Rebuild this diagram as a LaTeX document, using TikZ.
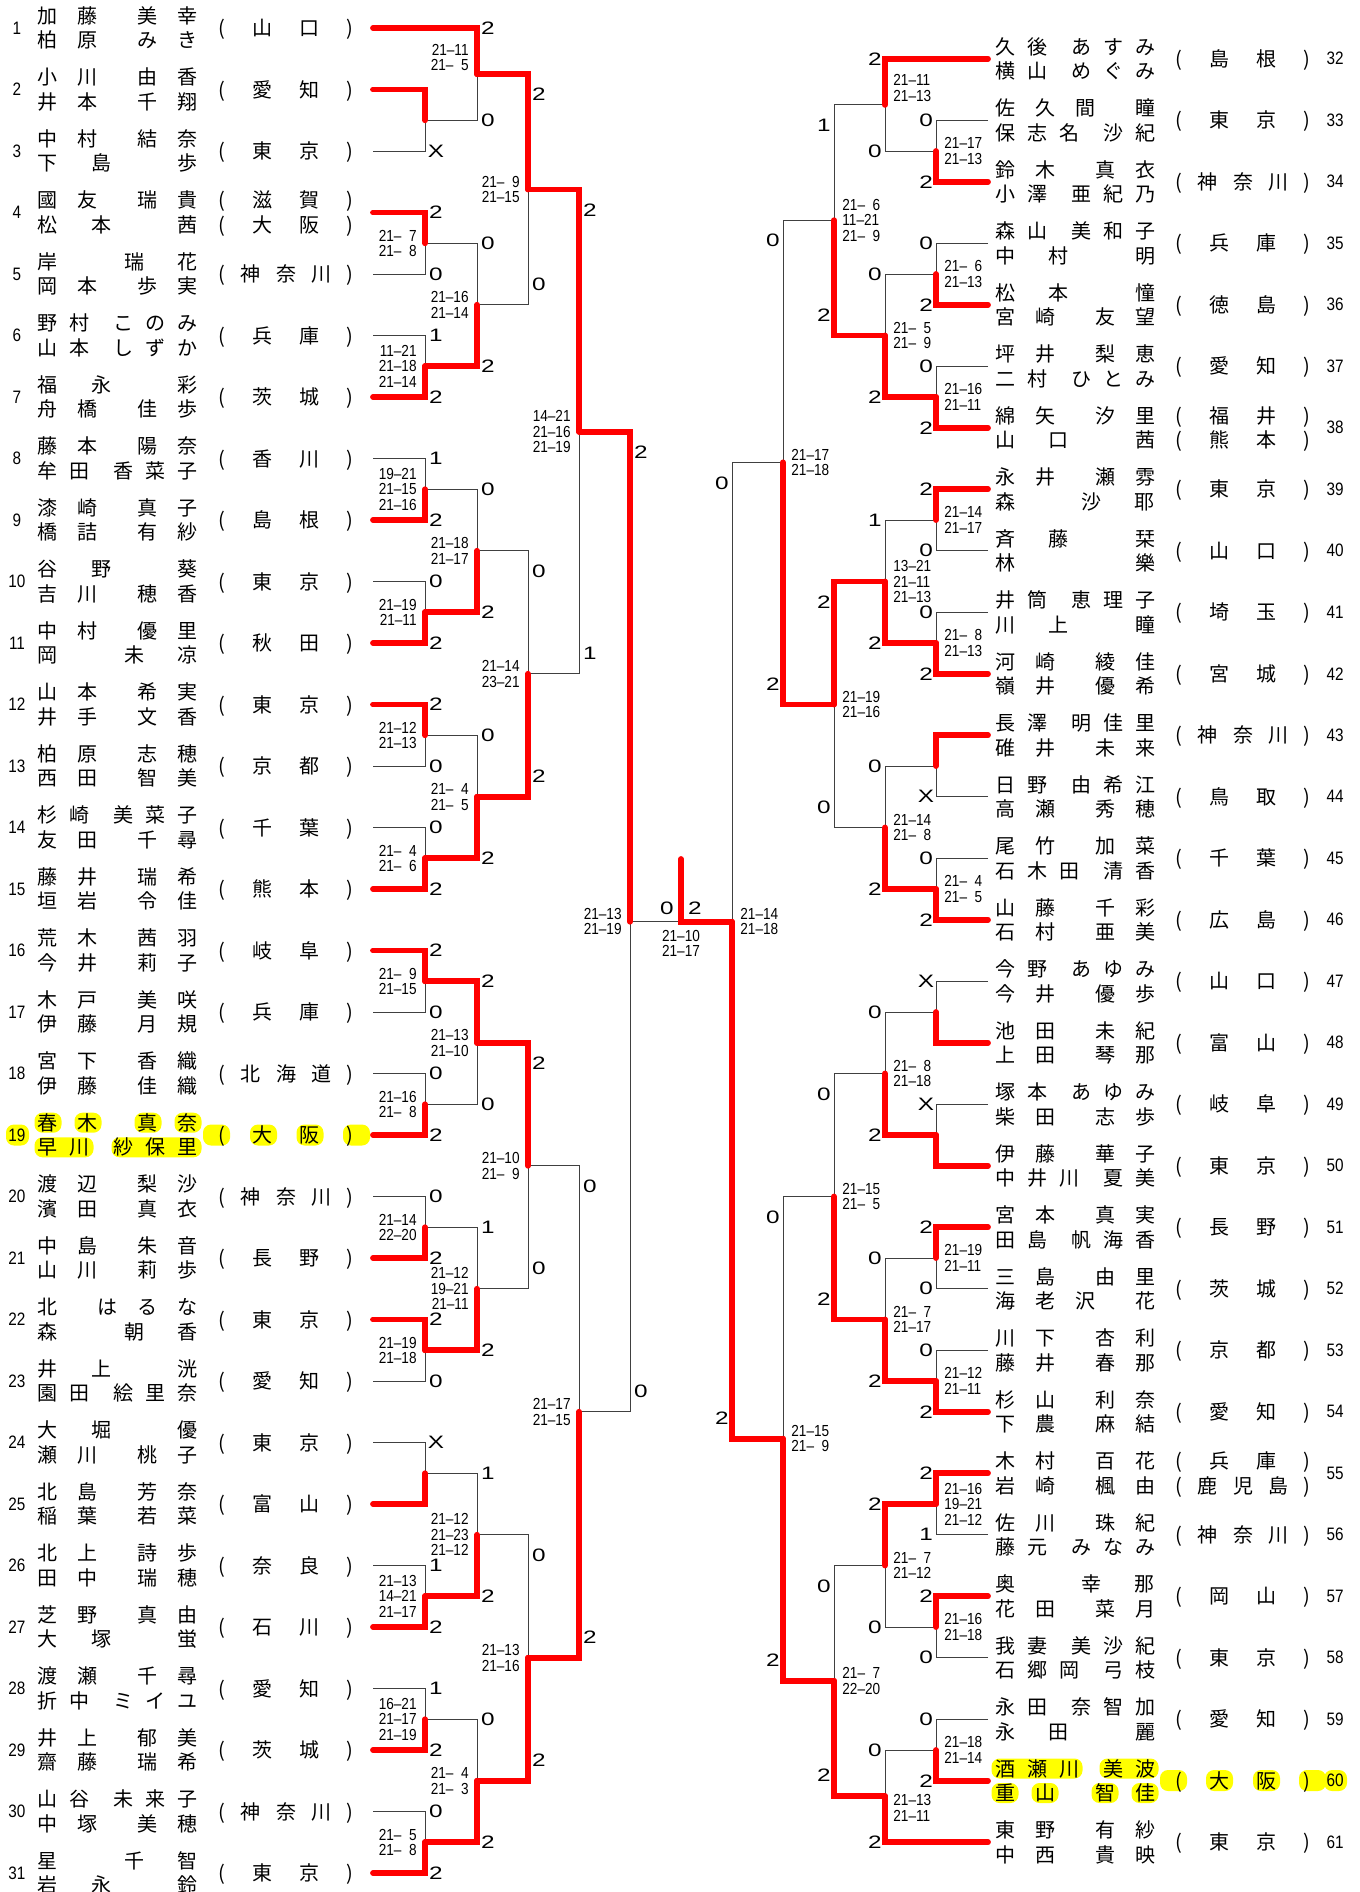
\documentclass[tikz,border=0pt]{standalone}
\usepackage{fontspec}
\setmainfont{Noto Sans CJK JP}
\newfontfamily\numfont{Liberation Sans}[FakeStretch=0.85]
\newfontfamily\gamefont{Liberation Sans}[FakeStretch=1.35]
\usetikzlibrary{positioning}
\definecolor{winred}  {RGB}{255,0,0}
\definecolor{hlyellow}{RGB}{255,255,0}
\pgfdeclarelayer{thin}
\pgfsetlayers{thin,main}
\tikzset{
  win/.style   ={draw=winred, line width=2.9pt, line cap=round},
  lose/.style  ={draw=black!75, line width=0.5pt},
  jtext/.style ={inner sep=0pt, font=\fontsize{10}{12}\selectfont,
                 text height=8.8pt, text depth=1.2pt},
  entno/.style ={inner sep=0pt, font=\numfont\fontsize{9}{9}\selectfont},
  game/.style  ={inner sep=0pt, font=\gamefont\fontsize{9}{9}\selectfont},
  lscore/.style={inner sep=0pt, align=right, font=\numfont\fontsize{8}{7.75}\selectfont},
  rscore/.style={inner sep=0pt, align=left,  font=\numfont\fontsize{8}{7.75}\selectfont},
  hl/.style    ={fill=hlyellow, rounded corners=4pt},
}
%% spread characters with \hfill between them
\def\spreadchars#1{\spreadA#1\spreadend}
\def\spreadA#1#2\spreadend{#1\ifx\relax#2\relax\else\hfill\spreadA#2\spreadend\fi}
\newcommand\pname[2]{\hbox to 80pt{\spreadchars{#1}\hfill\hfill\spreadchars{#2}}}
\newcommand\pref[1]{\hbox to 67.3pt{(\hfill\spreadchars{#1}\hfill)}}
\newcommand\fsp{\phantom{0}}
%% entries: number, family/given (line 1), family/given (line 2), prefecture
\newcommand\lentry[6]{%
  \pgfmathsetmacro\ey{28+61.5*(#1-1)}%
  \node[entno] (n#1) at (17,\ey) {#1};
  \node[jtext] (a#1) at (118,\ey-12.3) {\pname{#2}{#3}};
  \node[jtext] (b#1) at (118,\ey+12.3) {\pname{#4}{#5}};
  \node[jtext] (p#1) at (286,\ey) {\pref{#6}};
  \coordinate (e#1) at (373,\ey);
}
\newcommand\lentryb[7]{%
  \pgfmathsetmacro\ey{28+61.5*(#1-1)}%
  \node[entno] (n#1) at (17,\ey) {#1};
  \node[jtext] (a#1) at (118,\ey-12.3) {\pname{#2}{#3}};
  \node[jtext] (p#1) at (286,\ey-12.3) {\pref{#4}};
  \node[jtext] (b#1) at (118,\ey+12.3) {\pname{#5}{#6}};
  \node[jtext] (q#1) at (286,\ey+12.3) {\pref{#7}};
  \coordinate (e#1) at (373,\ey);
}
\newcommand\rentry[6]{%
  \pgfmathsetmacro\ey{58.75+61.5*(#1-32)}%
  \node[entno] (n#1) at (1335,\ey) {#1};
  \node[jtext] (a#1) at (1075,\ey-12.3) {\pname{#2}{#3}};
  \node[jtext] (b#1) at (1075,\ey+12.3) {\pname{#4}{#5}};
  \node[jtext] (p#1) at (1243,\ey) {\pref{#6}};
  \coordinate (e#1) at (988,\ey);
}
\newcommand\rentryb[7]{%
  \pgfmathsetmacro\ey{58.75+61.5*(#1-32)}%
  \node[entno] (n#1) at (1335,\ey) {#1};
  \node[jtext] (a#1) at (1075,\ey-12.3) {\pname{#2}{#3}};
  \node[jtext] (p#1) at (1243,\ey-12.3) {\pref{#4}};
  \node[jtext] (b#1) at (1075,\ey+12.3) {\pname{#5}{#6}};
  \node[jtext] (q#1) at (1243,\ey+12.3) {\pref{#7}};
  \coordinate (e#1) at (988,\ey);
}
%% matches: match, top, bottom, top games, bottom games, label shift, winner (t/b), score, score shift
\newcommand\lbout[9]{%
  \begin{pgfonlayer}{thin}
    \ifx t#7\draw[lose] (#3) -| (#1);\else\draw[lose] (#2) -| (#1);\fi
  \end{pgfonlayer}
  \ifx t#7\draw[win] (#2) -| (#1);\else\draw[win] (#3) -| (#1);\fi
  \node[game, xshift=5.5pt, yshift=-#6] (#1-t) at (#1 |- #2) {#4};
  \node[game, xshift=5.5pt, yshift=#6] (#1-b) at (#1 |- #3) {#5};
  \node[lscore, left=4pt of #1, yshift=#9] (#1-s) {#8};
}
\newcommand\rbout[9]{%
  \begin{pgfonlayer}{thin}
    \ifx t#7\draw[lose] (#3) -| (#1);\else\draw[lose] (#2) -| (#1);\fi
  \end{pgfonlayer}
  \ifx t#7\draw[win] (#2) -| (#1);\else\draw[win] (#3) -| (#1);\fi
  \node[game, xshift=-5pt, yshift=-#6] (#1-t) at (#1 |- #2) {#4};
  \node[game, xshift=-5pt, yshift=#6] (#1-b) at (#1 |- #3) {#5};
  \node[rscore, right=4pt of #1, yshift=#9] (#1-s) {#8};
}

\begin{document}
\begin{tikzpicture}[x=0.5pt,y=-0.5pt]
  \useasboundingbox (0,0) rectangle (1360,1892);

  %% highlighted pairs
  \fill[hl] (6,1124.5) rectangle (29,1145.5);
  \fill[hl] (34.5,1112.7) rectangle (61.5,1132.7);
  \fill[hl] (74.5,1112.7) rectangle (101.5,1132.7);
  \fill[hl] (134.5,1112.7) rectangle (161.5,1132.7);
  \fill[hl] (174.5,1112.7) rectangle (201.5,1132.7);
  \fill[hl] (34.5,1137.3) rectangle (93.5,1157.3);
  \fill[hl] (111.5,1137.3) rectangle (201.5,1157.3);
  \fill[hl] (203,1124.5) rectangle (230,1145.5);
  \fill[hl] (250,1124.5) rectangle (277,1145.5);
  \fill[hl] (296.5,1124.5) rectangle (323.5,1145.5);
  \fill[hl] (343,1124.5) rectangle (370,1145.5);
  \fill[hl] (991.5,1758.5) rectangle (1082.5,1778.5);
  \fill[hl] (1099.5,1758.5) rectangle (1158.5,1778.5);
  \fill[hl] (991.5,1783) rectangle (1018.5,1803);
  \fill[hl] (1031.5,1783) rectangle (1058.5,1803);
  \fill[hl] (1091.5,1783) rectangle (1118.5,1803);
  \fill[hl] (1131.5,1783) rectangle (1158.5,1803);
  \fill[hl] (1160,1770) rectangle (1187,1791);
  \fill[hl] (1206,1770) rectangle (1233,1791);
  \fill[hl] (1253,1770) rectangle (1280,1791);
  \fill[hl] (1299,1770) rectangle (1326,1791);
  \fill[hl] (1324,1770) rectangle (1347,1791);

  %% left half
  \lentry{1}{加藤}{美幸}{柏原}{みき}{山口}
  \lentry{2}{小川}{由香}{井本}{千翔}{愛知}
  \lentry{3}{中村}{結奈}{下島}{歩}{東京}
  \lentryb{4}{國友}{瑞貴}{滋賀}{松本}{茜}{大阪}
  \lentry{5}{岸}{瑞花}{岡本}{歩実}{神奈川}
  \lentry{6}{野村}{このみ}{山本}{しずか}{兵庫}
  \lentry{7}{福永}{彩}{舟橋}{佳歩}{茨城}
  \lentry{8}{藤本}{陽奈}{牟田}{香菜子}{香川}
  \lentry{9}{漆崎}{真子}{橋詰}{有紗}{島根}
  \lentry{10}{谷野}{葵}{吉川}{穂香}{東京}
  \lentry{11}{中村}{優里}{岡}{未凉}{秋田}
  \lentry{12}{山本}{希実}{井手}{文香}{東京}
  \lentry{13}{柏原}{志穂}{西田}{智美}{京都}
  \lentry{14}{杉崎}{美菜子}{友田}{千尋}{千葉}
  \lentry{15}{藤井}{瑞希}{垣岩}{令佳}{熊本}
  \lentry{16}{荒木}{茜羽}{今井}{莉子}{岐阜}
  \lentry{17}{木戸}{美咲}{伊藤}{月規}{兵庫}
  \lentry{18}{宮下}{香織}{伊藤}{佳織}{北海道}
  \lentry{19}{春木}{真奈}{早川}{紗保里}{大阪}
  \lentry{20}{渡辺}{梨沙}{濱田}{真衣}{神奈川}
  \lentry{21}{中島}{朱音}{山川}{莉歩}{長野}
  \lentry{22}{北}{はるな}{森}{朝香}{東京}
  \lentry{23}{井上}{洸}{園田}{絵里奈}{愛知}
  \lentry{24}{大堀}{優}{瀬川}{桃子}{東京}
  \lentry{25}{北島}{芳奈}{稲葉}{若菜}{富山}
  \lentry{26}{北上}{詩歩}{田中}{瑞穂}{奈良}
  \lentry{27}{芝野}{真由}{大塚}{蛍}{石川}
  \lentry{28}{渡瀬}{千尋}{折中}{ミイユ}{愛知}
  \lentry{29}{井上}{郁美}{齋藤}{瑞希}{茨城}
  \lentry{30}{山谷}{未来子}{中塚}{美穂}{神奈川}
  \lentry{31}{星}{千智}{岩永}{鈴}{東京}

  %% right half
  \rentry{32}{久後}{あすみ}{横山}{めぐみ}{島根}
  \rentry{33}{佐久間}{瞳}{保志名}{沙紀}{東京}
  \rentry{34}{鈴木}{真衣}{小澤}{亜紀乃}{神奈川}
  \rentry{35}{森山}{美和子}{中村}{明}{兵庫}
  \rentry{36}{松本}{憧}{宮崎}{友望}{徳島}
  \rentry{37}{坪井}{梨恵}{二村}{ひとみ}{愛知}
  \rentryb{38}{綿矢}{汐里}{福井}{山口}{茜}{熊本}
  \rentry{39}{永井}{瀬雰}{森}{沙耶}{東京}
  \rentry{40}{斉藤}{栞}{林}{樂}{山口}
  \rentry{41}{井筒}{恵理子}{川上}{瞳}{埼玉}
  \rentry{42}{河崎}{綾佳}{嶺井}{優希}{宮城}
  \rentry{43}{長澤}{明佳里}{碓井}{未来}{神奈川}
  \rentry{44}{日野}{由希江}{高瀬}{秀穂}{鳥取}
  \rentry{45}{尾竹}{加菜}{石木田}{清香}{千葉}
  \rentry{46}{山藤}{千彩}{石村}{亜美}{広島}
  \rentry{47}{今野}{あゆみ}{今井}{優歩}{山口}
  \rentry{48}{池田}{未紀}{上田}{琴那}{富山}
  \rentry{49}{塚本}{あゆみ}{柴田}{志歩}{岐阜}
  \rentry{50}{伊藤}{華子}{中井川}{夏美}{東京}
  \rentry{51}{宮本}{真実}{田島}{帆海香}{長野}
  \rentry{52}{三島}{由里}{海老沢}{花}{茨城}
  \rentry{53}{川下}{杏利}{藤井}{春那}{京都}
  \rentry{54}{杉山}{利奈}{下農}{麻結}{愛知}
  \rentryb{55}{木村}{百花}{兵庫}{岩崎}{楓由}{鹿児島}
  \rentry{56}{佐川}{珠紀}{藤元}{みなみ}{神奈川}
  \rentry{57}{奥}{幸那}{花田}{菜月}{岡山}
  \rentry{58}{我妻}{美沙紀}{石郷岡}{弓枝}{東京}
  \rentry{59}{永田}{奈智加}{永田}{麗}{愛知}
  \rentry{60}{酒瀬川}{美波}{重山}{智佳}{大阪}
  \rentry{61}{東野}{有紗}{中西}{貴映}{東京}

  %% left bracket
  \coordinate (lA) at (425,120.25);
  \coordinate (lB) at (477,74.125);
  \coordinate (lC) at (425,243.25);
  \coordinate (lD) at (425,366.25);
  \coordinate (lE) at (477,304.75);
  \coordinate (lF) at (528,189.44);
  \coordinate (lG) at (425,489.25);
  \coordinate (lH) at (425,612.25);
  \coordinate (lI) at (477,550.75);
  \coordinate (lJ) at (425,735.25);
  \coordinate (lK) at (425,858.25);
  \coordinate (lL) at (477,796.75);
  \coordinate (lM) at (528,673.75);
  \coordinate (lN) at (579,431.6);
  \coordinate (lO) at (425,981.25);
  \coordinate (lP) at (425,1104.25);
  \coordinate (lQ) at (477,1042.75);
  \coordinate (lR) at (425,1227.25);
  \coordinate (lS) at (425,1350.25);
  \coordinate (lT) at (477,1288.75);
  \coordinate (lU) at (528,1165.75);
  \coordinate (lV) at (425,1473.25);
  \coordinate (lW) at (425,1596.25);
  \coordinate (lX) at (477,1534.75);
  \coordinate (lY) at (425,1719.25);
  \coordinate (lZ) at (425,1842.25);
  \coordinate (lAA) at (477,1780.75);
  \coordinate (lAB) at (528,1657.75);
  \coordinate (lAC) at (579,1411.75);
  \coordinate (lAD) at (630,921.7);

  \lbout{lA}{e2}{e3}{}{X}{0pt}{t}{}{0pt}
  \lbout{lB}{e1}{lA}{2}{0}{0pt}{t}{21–11\\21–\fsp5}{8.25pt}
  \lbout{lC}{e4}{e5}{2}{0}{0pt}{t}{21–\fsp7\\21–\fsp8}{0pt}
  \lbout{lD}{e6}{e7}{1}{2}{0pt}{b}{11–21\\21–18\\21–14}{0pt}
  \lbout{lE}{lC}{lD}{0}{2}{0pt}{b}{21–16\\21–14}{0pt}
  \lbout{lF}{lB}{lE}{2}{0}{10.25pt}{t}{21–\fsp9\\21–15}{0pt}
  \lbout{lG}{e8}{e9}{1}{2}{0pt}{b}{19–21\\21–15\\21–16}{0pt}
  \lbout{lH}{e10}{e11}{0}{2}{0pt}{b}{21–19\\21–11}{0pt}
  \lbout{lI}{lG}{lH}{0}{2}{0pt}{b}{21–18\\21–17}{0pt}
  \lbout{lJ}{e12}{e13}{2}{0}{0pt}{t}{21–12\\21–13}{0pt}
  \lbout{lK}{e14}{e15}{0}{2}{0pt}{b}{21–\fsp4\\21–\fsp6}{0pt}
  \lbout{lL}{lJ}{lK}{0}{2}{0pt}{b}{21–\fsp4\\21–\fsp5}{0pt}
  \lbout{lM}{lI}{lL}{0}{2}{10.25pt}{b}{21–14\\23–21}{0pt}
  \lbout{lN}{lF}{lM}{2}{1}{10.25pt}{t}{14–21\\21–16\\21–19}{0pt}
  \lbout{lO}{e16}{e17}{2}{0}{0pt}{t}{21–\fsp9\\21–15}{0pt}
  \lbout{lP}{e18}{e19}{0}{2}{0pt}{b}{21–16\\21–\fsp8}{0pt}
  \lbout{lQ}{lO}{lP}{2}{0}{0pt}{t}{21–13\\21–10}{0pt}
  \lbout{lR}{e20}{e21}{0}{2}{0pt}{b}{21–14\\22–20}{0pt}
  \lbout{lS}{e22}{e23}{2}{0}{0pt}{t}{21–19\\21–18}{0pt}
  \lbout{lT}{lR}{lS}{1}{2}{0pt}{b}{21–12\\19–21\\21–11}{0pt}
  \lbout{lU}{lQ}{lT}{2}{0}{10.25pt}{t}{21–10\\21–\fsp9}{0pt}
  \lbout{lV}{e24}{e25}{X}{}{0pt}{b}{}{0pt}
  \lbout{lW}{e26}{e27}{1}{2}{0pt}{b}{21–13\\14–21\\21–17}{0pt}
  \lbout{lX}{lV}{lW}{1}{2}{0pt}{b}{21–12\\21–23\\21–12}{0pt}
  \lbout{lY}{e28}{e29}{1}{2}{0pt}{b}{16–21\\21–17\\21–19}{0pt}
  \lbout{lZ}{e30}{e31}{0}{2}{0pt}{b}{21–\fsp5\\21–\fsp8}{0pt}
  \lbout{lAA}{lY}{lZ}{0}{2}{0pt}{b}{21–\fsp4\\21–\fsp3}{0pt}
  \lbout{lAB}{lX}{lAA}{0}{2}{10.25pt}{b}{21–13\\21–16}{0pt}
  \lbout{lAC}{lU}{lAB}{0}{2}{10.25pt}{b}{21–17\\21–15}{0pt}
  \lbout{lAD}{lN}{lAC}{2}{0}{10.25pt}{t}{21–13\\21–19}{0pt}

  %% right bracket
  \coordinate (ra) at (936,151);
  \coordinate (rb) at (885,104.875);
  \coordinate (rc) at (936,274);
  \coordinate (rd) at (936,397);
  \coordinate (re) at (885,335.5);
  \coordinate (rf) at (834,220.19);
  \coordinate (rg) at (936,520);
  \coordinate (rh) at (936,643);
  \coordinate (ri) at (885,581.5);
  \coordinate (rj) at (936,766);
  \coordinate (rk) at (936,889);
  \coordinate (rl) at (885,827.5);
  \coordinate (rm) at (834,704.5);
  \coordinate (rn) at (783,462.34);
  \coordinate (ro) at (936,1012);
  \coordinate (rp) at (936,1135);
  \coordinate (rq) at (885,1073.5);
  \coordinate (rr) at (936,1258);
  \coordinate (rs) at (936,1381);
  \coordinate (rt) at (885,1319.5);
  \coordinate (ru) at (834,1196.5);
  \coordinate (rv) at (936,1504);
  \coordinate (rw) at (936,1627);
  \coordinate (rx) at (885,1565.5);
  \coordinate (ry) at (936,1750);
  \coordinate (rz) at (885,1796.125);
  \coordinate (raa) at (834,1680.81);
  \coordinate (rab) at (783,1438.66);
  \coordinate (rac) at (732,921.7);

  \rbout{ra}{e33}{e34}{0}{2}{0pt}{b}{21–17\\21–13}{0pt}
  \rbout{rb}{e32}{ra}{2}{0}{0pt}{t}{21–11\\21–13}{8.4pt}
  \rbout{rc}{e35}{e36}{0}{2}{0pt}{b}{21–\fsp6\\21–13}{0pt}
  \rbout{rd}{e37}{e38}{0}{2}{0pt}{b}{21–16\\21–11}{0pt}
  \rbout{re}{rc}{rd}{0}{2}{0pt}{b}{21–\fsp5\\21–\fsp9}{0pt}
  \rbout{rf}{rb}{re}{1}{2}{10.25pt}{b}{21–\fsp6\\11–21\\21–\fsp9}{0pt}
  \rbout{rg}{e39}{e40}{2}{0}{0pt}{t}{21–14\\21–17}{0pt}
  \rbout{rh}{e41}{e42}{0}{2}{0pt}{b}{21–\fsp8\\21–13}{0pt}
  \rbout{ri}{rg}{rh}{1}{2}{0pt}{b}{13–21\\21–11\\21–13}{0pt}
  \rbout{rj}{e43}{e44}{}{X}{0pt}{t}{}{0pt}
  \rbout{rk}{e45}{e46}{0}{2}{0pt}{b}{21–\fsp4\\21–\fsp5}{0pt}
  \rbout{rl}{rj}{rk}{0}{2}{0pt}{b}{21–14\\21–\fsp8}{0pt}
  \rbout{rm}{ri}{rl}{2}{0}{10.25pt}{t}{21–19\\21–16}{0pt}
  \rbout{rn}{rf}{rm}{0}{2}{10.25pt}{b}{21–17\\21–18}{0pt}
  \rbout{ro}{e47}{e48}{X}{}{0pt}{b}{}{0pt}
  \rbout{rp}{e49}{e50}{X}{}{0pt}{b}{}{0pt}
  \rbout{rq}{ro}{rp}{0}{2}{0pt}{b}{21–\fsp8\\21–18}{0pt}
  \rbout{rr}{e51}{e52}{2}{0}{0pt}{t}{21–19\\21–11}{0pt}
  \rbout{rs}{e53}{e54}{0}{2}{0pt}{b}{21–12\\21–11}{0pt}
  \rbout{rt}{rr}{rs}{0}{2}{0pt}{b}{21–\fsp7\\21–17}{0pt}
  \rbout{ru}{rq}{rt}{0}{2}{10.25pt}{b}{21–15\\21–\fsp5}{0pt}
  \rbout{rv}{e55}{e56}{2}{1}{0pt}{t}{21–16\\19–21\\21–12}{0pt}
  \rbout{rw}{e57}{e58}{2}{0}{0pt}{t}{21–16\\21–18}{0pt}
  \rbout{rx}{rv}{rw}{2}{0}{0pt}{t}{21–\fsp7\\21–12}{0pt}
  \rbout{ry}{e59}{e60}{0}{2}{0pt}{b}{21–18\\21–14}{0pt}
  \rbout{rz}{ry}{e61}{0}{2}{0pt}{b}{21–13\\21–11}{-6pt}
  \rbout{raa}{rx}{rz}{0}{2}{10.25pt}{b}{21–\fsp7\\22–20}{0pt}
  \rbout{rab}{ru}{raa}{0}{2}{10.25pt}{b}{21–15\\21–\fsp9}{0pt}
  \rbout{rac}{rn}{rab}{0}{2}{10.25pt}{b}{21–14\\21–18}{0pt}

  %% final
  \coordinate (fin) at (681,921.7);
  \coordinate (champ) at (681,859);
  \begin{pgfonlayer}{thin}
    \draw[lose] (lAD) -- (fin);
  \end{pgfonlayer}
  \draw[win] (rac) -- (fin) -- (champ);
  \node[game] (fin-l) at (667,908) {0};
  \node[game] (fin-r) at (695,908) {2};
  \node[lscore, below=4pt of fin] (fin-s) {21–10\\21–17};
\end{tikzpicture}
\end{document}
